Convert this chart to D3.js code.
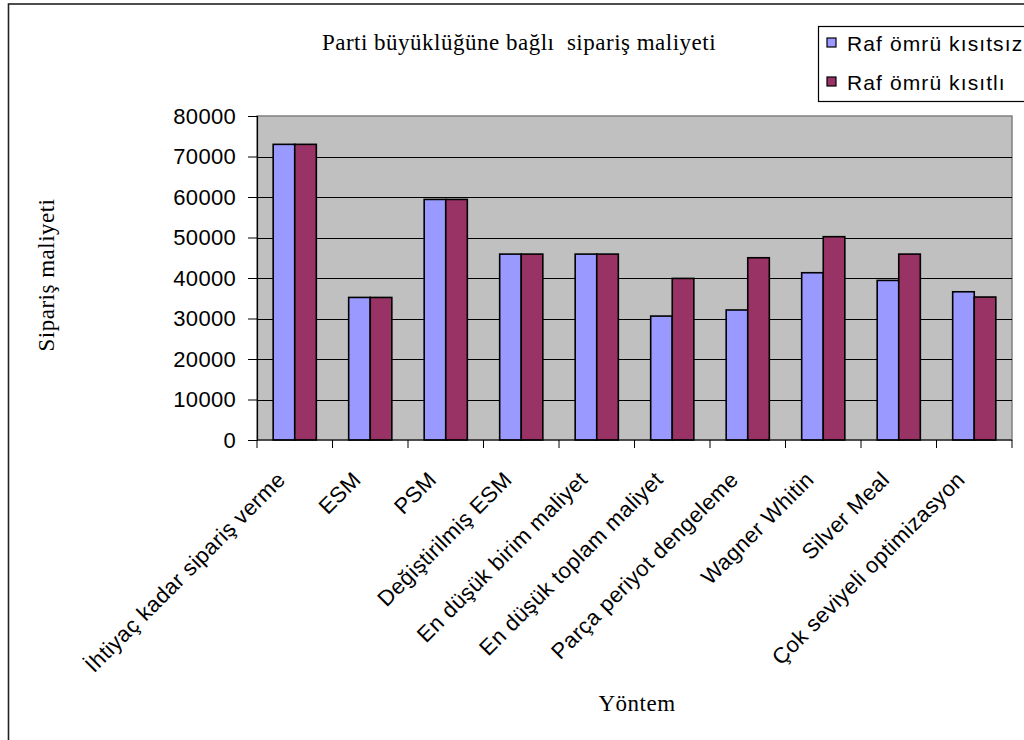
<!DOCTYPE html>
<html>
<head>
<meta charset="utf-8">
<script src="https://cdn.jsdelivr.net/npm/d3@7"></script>
<style>
  html, body { margin: 0; padding: 0; background: #fff; }
  svg { display: block; }
  .sans { font-family: "Liberation Sans", Arial, sans-serif; }
  .serif { font-family: "Liberation Serif", "Times New Roman", serif; }
</style>
</head>
<body>
<svg id="chart" width="1024" height="740"></svg>
<script>
// Lot-sizing methods and the ordering cost each one produces
const categories = [
  "İhtiyaç kadar sipariş verme",
  "ESM",
  "PSM",
  "Değiştirilmiş ESM",
  "En düşük birim maliyet",
  "En düşük toplam maliyet",
  "Parça periyot dengeleme",
  "Wagner Whitin",
  "Silver Meal",
  "Çok seviyeli optimizasyon"
];
const unlimitedShelfLife = [73000, 35200, 59400, 45900, 45900, 30600, 32100, 41300, 39400, 36600];
const limitedShelfLife   = [73000, 35200, 59400, 45900, 45900, 39900, 45000, 50200, 45900, 35300];
const seriesNames = ["Raf ömrü kısıtsız", "Raf ömrü kısıtlı"];
const seriesColors = ["#9999FF", "#993366"];
const yTickValues = [0, 10000, 20000, 30000, 40000, 50000, 60000, 70000, 80000];

const svg = d3.select("#chart");

// Plot area bounds
const plot = { left: 257, right: 1012, top: 116, bottom: 440 };

const x = d3.scaleBand().domain(categories).range([plot.left, plot.right]).paddingInner(0).paddingOuter(0);
const xs = d3.scaleBand().domain([0, 1]).range([0, x.bandwidth()]).paddingInner(0).paddingOuter(0.75);
const y = d3.scaleLinear().domain([0, 80000]).range([plot.bottom, plot.top]);

// Outer chart frame
svg.append("rect")
  .attr("x", 8.5).attr("y", 4).attr("width", 1100).attr("height", 800)
  .attr("fill", "none").attr("stroke", "#222").attr("stroke-width", 1.6);

// Plot background
svg.append("rect")
  .attr("x", plot.left).attr("y", plot.top)
  .attr("width", plot.right - plot.left).attr("height", plot.bottom - plot.top)
  .attr("fill", "#C0C0C0").attr("stroke", "#808080").attr("stroke-width", 1.5);

// Horizontal gridlines
svg.append("g").selectAll("line")
  .data(yTickValues.filter(v => v > 0 && v < 80000))
  .join("line")
  .attr("x1", plot.left).attr("x2", plot.right)
  .attr("y1", d => Math.round(y(d)) + 0.5).attr("y2", d => Math.round(y(d)) + 0.5)
  .attr("stroke", "#000").attr("stroke-width", 1);

// Bars
const series = [unlimitedShelfLife, limitedShelfLife];
series.forEach((vals, si) => {
  svg.append("g").selectAll("rect")
    .data(categories.map((c, i) => ({ c, v: vals[i] })))
    .join("rect")
    .attr("x", d => x(d.c) + xs(si))
    .attr("y", d => y(d.v))
    .attr("width", xs.bandwidth())
    .attr("height", d => y(0) - y(d.v))
    .attr("fill", seriesColors[si])
    .attr("stroke", "#000").attr("stroke-width", 1.6);
});

// Y axis
const yAxis = svg.append("g")
  .attr("transform", `translate(${plot.left},0)`)
  .call(d3.axisLeft(y).tickValues(yTickValues).tickSize(9).tickPadding(12).tickFormat(d3.format("d")));
yAxis.select(".domain").attr("stroke", "#000").attr("stroke-width", 1.2);
yAxis.selectAll(".tick line").attr("stroke", "#000");
yAxis.selectAll(".tick text")
  .attr("class", "sans").attr("fill", "#000")
  .style("font-size", "22px").style("letter-spacing", "0.3px");

// X axis line and boundary ticks
svg.append("line")
  .attr("x1", plot.left).attr("x2", plot.right)
  .attr("y1", plot.bottom).attr("y2", plot.bottom)
  .attr("stroke", "#000").attr("stroke-width", 1.2);
const boundaries = categories.map(c => x(c)).concat([x.range()[1]]);
svg.append("g").selectAll("line")
  .data(boundaries)
  .join("line")
  .attr("x1", d => d).attr("x2", d => d)
  .attr("y1", plot.bottom).attr("y2", plot.bottom + 8)
  .attr("stroke", "#000").attr("stroke-width", 1);

// Rotated category labels
svg.append("g").selectAll("text")
  .data(categories)
  .join("text")
  .attr("class", "sans")
  .attr("transform", d => `translate(${x(d) + x.bandwidth() / 2 - 8},481) rotate(-45)`)
  .attr("text-anchor", "end")
  .style("font-size", "22px").style("letter-spacing", "0.4px")
  .attr("fill", "#000")
  .text(d => d);

// Title
svg.append("text")
  .attr("class", "serif")
  .attr("x", 519).attr("y", 50)
  .attr("text-anchor", "middle")
  .style("font-size", "23px").style("letter-spacing", "0.5px").style("white-space", "pre")
  .text("Parti büyüklüğüne bağlı  sipariş maliyeti");

// Axis titles
svg.append("text")
  .attr("class", "serif")
  .attr("transform", "translate(54,275) rotate(-90)")
  .attr("text-anchor", "middle")
  .style("font-size", "23px").style("letter-spacing", "0.5px")
  .text("Sipariş maliyeti");

svg.append("text")
  .attr("class", "serif")
  .attr("x", 637).attr("y", 711)
  .attr("text-anchor", "middle")
  .style("font-size", "23px").style("letter-spacing", "0.5px")
  .text("Yöntem");

// Legend
const legend = svg.append("g");
legend.append("rect")
  .attr("x", 818.5).attr("y", 26.5).attr("width", 220).attr("height", 75)
  .attr("fill", "#fff").attr("stroke", "#000").attr("stroke-width", 1.2);
seriesNames.forEach((name, i) => {
  const cy = 43 + i * 39;
  legend.append("rect")
    .attr("x", 827).attr("y", cy - 5).attr("width", 9).attr("height", 9)
    .attr("fill", seriesColors[i]).attr("stroke", "#000").attr("stroke-width", 1.2);
  legend.append("text")
    .attr("class", "sans")
    .attr("x", 847).attr("y", cy + 8)
    .style("font-size", "21px").style("letter-spacing", "1.1px")
    .text(name);
});
</script>
</body>
</html>
